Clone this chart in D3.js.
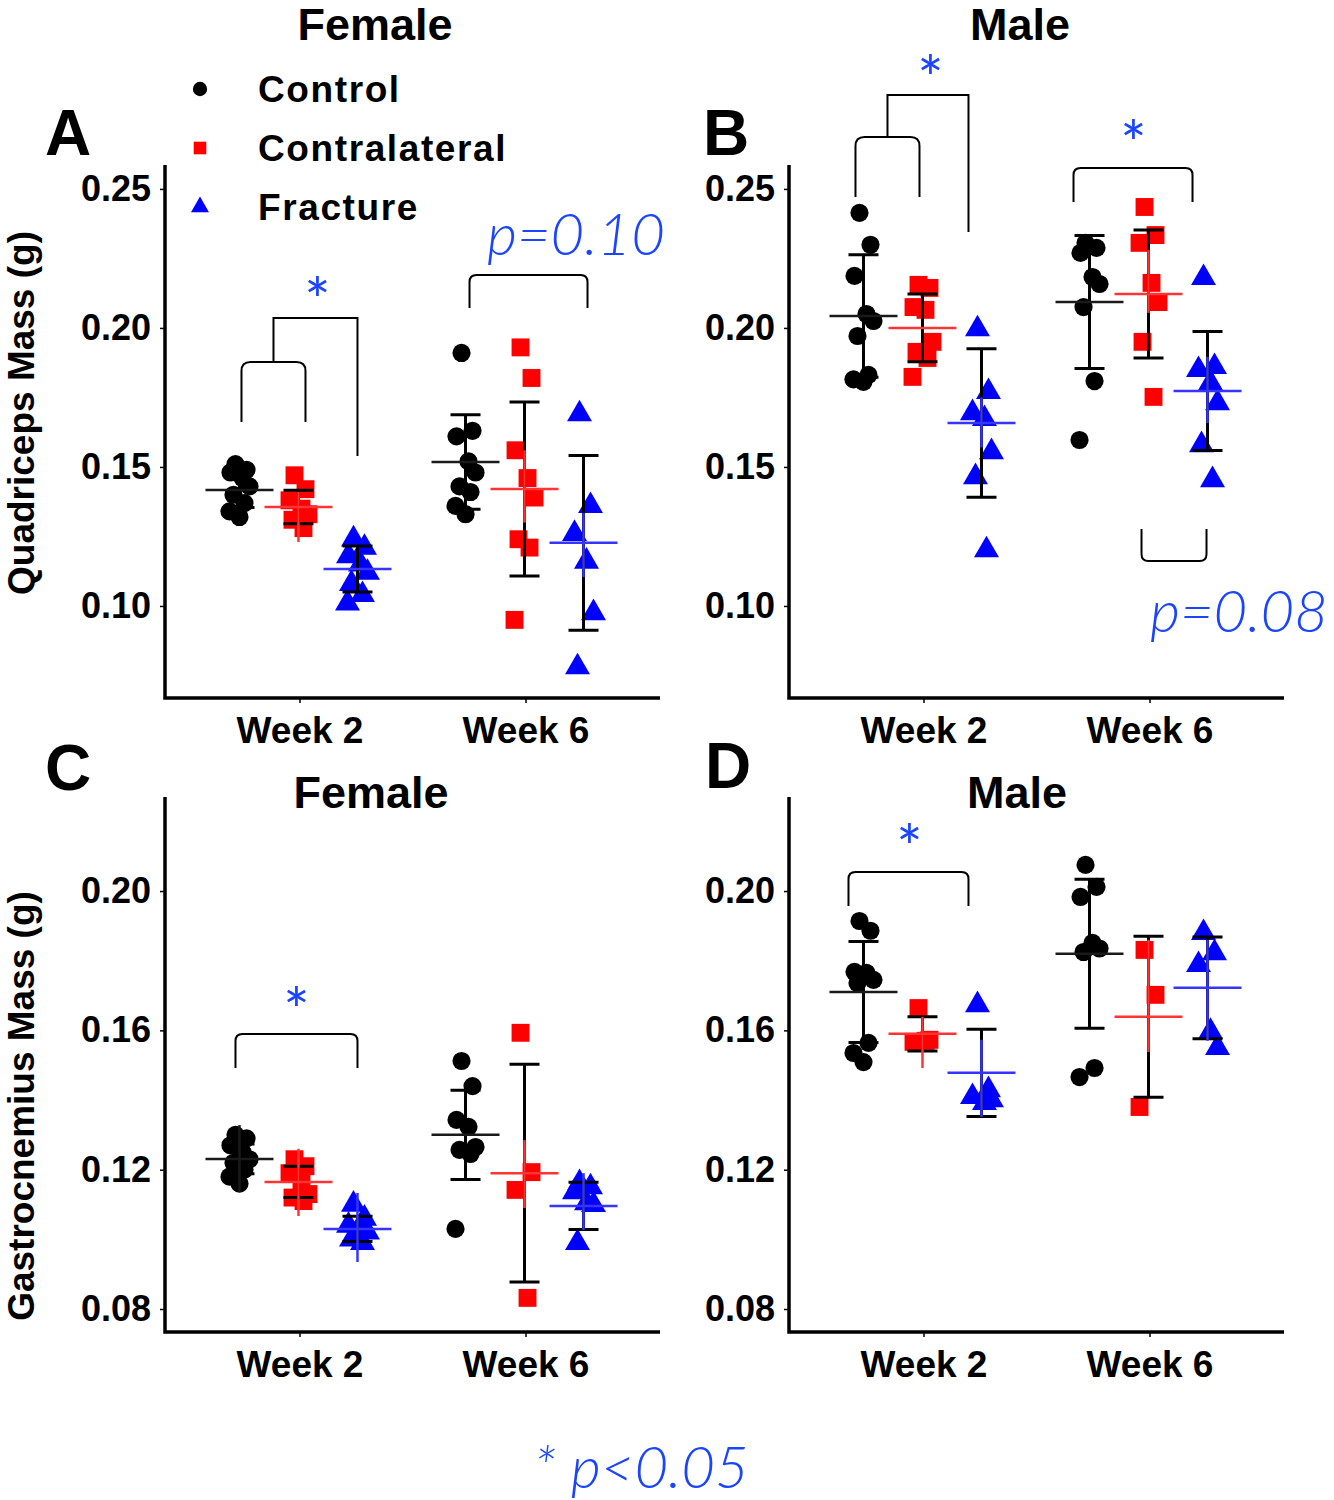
<!DOCTYPE html>
<html><head><meta charset="utf-8">
<script src="https://cdn.jsdelivr.net/npm/d3@7"></script>
<style>body{margin:0;background:#fff}svg{display:block}</style>
</head><body>
<svg id="c" width="1334" height="1500"></svg>
<script>
// ---------------- DATA ----------------
const weeks = ["Week 2", "Week 6"];
const groups = ["Control", "Contralateral", "Fracture"];
const quadTicks = [0.10, 0.15, 0.20, 0.25];
const gastTicks = [0.08, 0.12, 0.16, 0.20];
// order of each list: W2 Control, W2 Contralateral, W2 Fracture, W6 Control, W6 Contralateral, W6 Fracture

const quadFemalePts = [
  [0.151, 0.149, 0.148, 0.146, 0.143, 0.140, 0.137, 0.134, 0.132],
  [0.147, 0.142, 0.138, 0.135, 0.133, 0.131, 0.128],
  [0.124, 0.121, 0.118, 0.115, 0.112, 0.108, 0.104, 0.101],
  [0.191, 0.163, 0.161, 0.152, 0.148, 0.143, 0.141, 0.136, 0.133],
  [0.193, 0.182, 0.156, 0.146, 0.139, 0.124, 0.121, 0.095],
  [0.169, 0.136, 0.126, 0.116, 0.0975, 0.078]
];
const quadFemaleMean = [0.1417, 0.1356, 0.1133, 0.1518, 0.1421, 0.1227];
const quadFemaleSD = [0.0063, 0.0060, 0.00825, 0.0170, 0.0313, 0.03145];
const quadFemaleCI = [null, [0.123, 0.141], null, null, [0.130, 0.156], [0.1104, 0.1335]];

const quadMalePts = [
  [0.2414, 0.2299, 0.2187, 0.2050, 0.2025, 0.1971, 0.1831, 0.1815, 0.1806],
  [0.2155, 0.2144, 0.2075, 0.2065, 0.1950, 0.1914, 0.1892, 0.1824],
  [0.1996, 0.1770, 0.1694, 0.1673, 0.1554, 0.1464, 0.1201],
  [0.2306, 0.2288, 0.2270, 0.2183, 0.2158, 0.2075, 0.1809, 0.1597],
  [0.2435, 0.2334, 0.2306, 0.2162, 0.2093, 0.1950, 0.1752],
  [0.2180, 0.1860, 0.1849, 0.1802, 0.1730, 0.1579, 0.1453]
];
const quadMaleMean = [0.2043, 0.2000, 0.1658, 0.2093, 0.2122, 0.1773];
const quadMaleSD = [0.0220, 0.0122, 0.0267, 0.0239, 0.0230, 0.0214];
const quadMaleCI = [null, null, [0.157, 0.175], null, [0.2054, 0.228], [0.1658, 0.1896]];

const gastFemalePts = [
  [0.130, 0.129, 0.127, 0.125, 0.123, 0.122, 0.120, 0.118, 0.116],
  [0.123, 0.121, 0.119, 0.116, 0.113, 0.112, 0.111],
  [0.110, 0.106, 0.104, 0.103, 0.102, 0.100, 0.099],
  [0.1512, 0.1440, 0.1343, 0.1323, 0.1265, 0.1257, 0.1245, 0.1030],
  [0.1593, 0.1193, 0.1142, 0.0832],
  [0.1162, 0.1150, 0.1136, 0.1104, 0.1099, 0.0990]
];
const gastFemaleMean = [0.1231, 0.1165, 0.1030, 0.1300, 0.1190, 0.1096];
const gastFemaleSD = [0.0043, 0.0045, 0.0036, 0.0128, 0.03125, 0.0068];
const gastFemaleCI = [[0.1136, 0.1328], [0.1067, 0.126], [0.0935, 0.1133], null, [0.109, 0.1285], [0.1027, 0.119]];

const gastMalePts = [
  [0.1914, 0.1886, 0.1768, 0.1765, 0.1745, 0.1736, 0.1564, 0.1535, 0.1509],
  [0.1664, 0.1573, 0.1567, 0.1570],
  [0.1673, 0.1429, 0.1409, 0.1392, 0.1400],
  [0.2075, 0.2012, 0.1983, 0.1851, 0.1835, 0.1825, 0.1492, 0.1466],
  [0.1831, 0.1702, 0.1380],
  [0.1880, 0.1822, 0.1788, 0.1596, 0.1550]
];
const gastMaleMean = [0.1710, 0.1590, 0.1478, 0.1820, 0.1639, 0.1722];
const gastMaleSD = [0.0145, 0.0049, 0.0125, 0.0214, 0.0231, 0.0146];
const gastMaleCI = [null, [0.1492, 0.1639], [0.1352, 0.1573], null, [0.1538, 0.186], [0.157, 0.186]];

// ---------------- DRAWING ----------------
const svg = d3.select("#c");
const BLUE_TXT = "#1a44ff";
const colors = {Control: "#000000", Contralateral: "#ff0000", Fracture: "#0000ff"};
const meanColors = {Control: "#1a1a1a", Contralateral: "#ff3535", Fracture: "#3535ff"};
const symTypes = {Control: d3.symbolCircle, Contralateral: d3.symbolSquare, Fracture: d3.symbolTriangle};
const symSize = {Control: 260, Contralateral: 320, Fracture: 270};
const jitter = [-4, 7, -9, 3, 10, -6, 5, -10, 0];
const boldFont = "'Liberation Sans', Arial, sans-serif";
const thinFont = "Lato, 'Open Sans', 'DejaVu Sans', sans-serif";

const panels = [
  {letter: "A", lx: 45, ly: 155, x0: 165, x1: 660, yTop: 165, yBot: 698, domain: [0.0669, 0.2586], ticks: quadTicks,
   pts: quadFemalePts, mean: quadFemaleMean, sd: quadFemaleSD, ci: quadFemaleCI},
  {letter: "B", lx: 703, ly: 155, x0: 789, x1: 1284, yTop: 165, yBot: 698, domain: [0.0669, 0.2586], ticks: quadTicks,
   pts: quadMalePts, mean: quadMaleMean, sd: quadMaleSD, ci: quadMaleCI},
  {letter: "C", lx: 45, ly: 790, x0: 165, x1: 660, yTop: 797, yBot: 1332, domain: [0.0734, 0.227], ticks: gastTicks,
   pts: gastFemalePts, mean: gastFemaleMean, sd: gastFemaleSD, ci: gastFemaleCI},
  {letter: "D", lx: 705, ly: 788, x0: 789, x1: 1284, yTop: 797, yBot: 1332, domain: [0.0734, 0.227], ticks: gastTicks,
   pts: gastMalePts, mean: gastMaleMean, sd: gastMaleSD, ci: gastMaleCI}
];

panels.forEach(p => {
  const x = d3.scalePoint().domain(weeks).range([p.x0, p.x1]).padding(0.595);
  const gx = d3.scalePoint().domain(groups).range([-60, 58]);
  const y = d3.scaleLinear().domain(p.domain).range([p.yBot, p.yTop]);
  p.x = x; p.gx = gx; p.y = y;
  const g = svg.append("g");

  // axes
  const ya = g.append("g").attr("transform", `translate(${p.x0},0)`)
    .call(d3.axisLeft(y).tickValues(p.ticks).tickFormat(d3.format(".2f")).tickSize(5).tickPadding(9));
  ya.select(".domain").remove();
  ya.selectAll(".tick line").attr("stroke", "#000").attr("stroke-width", 1.5);
  ya.selectAll(".tick text").attr("font-family", boldFont).attr("font-weight", "bold")
    .attr("font-size", 36).attr("fill", "#000");
  const xa = g.append("g").attr("transform", `translate(0,${p.yBot})`)
    .call(d3.axisBottom(x).tickSize(5).tickPadding(6));
  xa.select(".domain").remove();
  xa.selectAll(".tick line").attr("stroke", "#000").attr("stroke-width", 1.5);
  xa.selectAll(".tick text").attr("font-family", boldFont).attr("font-weight", "bold")
    .attr("font-size", 37).attr("fill", "#000").attr("dy", "0.93em");
  g.append("path").attr("d", `M${p.x0},${p.yTop}V${p.yBot}H${p.x1}`)
    .attr("fill", "none").attr("stroke", "#000").attr("stroke-width", 3.5);

  const cells = [];
  weeks.forEach((w, wi) => groups.forEach((gr, gi) => {
    const i = wi * 3 + gi;
    cells.push({w, gr, cx: x(w) + gx(gr), pts: p.pts[i], mean: p.mean[i], sd: p.sd[i], ci: p.ci[i]});
  }));

  // points
  cells.forEach(c => {
    g.selectAll(null).data(c.pts).enter().append("path")
      .attr("d", d3.symbol().type(symTypes[c.gr]).size(symSize[c.gr]))
      .attr("transform", (v, k) => `translate(${c.cx + jitter[k % jitter.length]},${y(v)})`)
      .attr("fill", colors[c.gr]);
  });
  // black SD bars
  cells.forEach(c => {
    const lo = y(c.mean - c.sd), hi = y(c.mean + c.sd);
    g.append("path").attr("d", `M${c.cx},${hi}V${lo}M${c.cx - 15},${hi}H${c.cx + 15}M${c.cx - 15},${lo}H${c.cx + 15}`)
      .attr("stroke", "#000").attr("stroke-width", 3).attr("fill", "none");
  });
  // colored interval bars
  cells.forEach(c => {
    if (!c.ci) return;
    g.append("line").attr("x1", c.cx).attr("x2", c.cx).attr("y1", y(c.ci[0])).attr("y2", y(c.ci[1]))
      .attr("stroke", meanColors[c.gr]).attr("stroke-width", 2.5);
  });
  // mean lines
  cells.forEach(c => {
    g.append("line").attr("x1", c.cx - 34).attr("x2", c.cx + 34).attr("y1", y(c.mean)).attr("y2", y(c.mean))
      .attr("stroke", meanColors[c.gr]).attr("stroke-width", 2.5);
  });

  // panel letter
  g.append("text").attr("x", p.lx).attr("y", p.ly)
    .text(p.letter).attr("font-family", boldFont).attr("font-weight", "bold").attr("font-size", 64);
});

// titles
[["Female", 375, 40], ["Male", 1020, 40], ["Female", 371, 808], ["Male", 1017, 808]].forEach(t => {
  svg.append("text").attr("x", t[1]).attr("y", t[2]).attr("text-anchor", "middle").text(t[0])
    .attr("font-family", boldFont).attr("font-weight", "bold").attr("font-size", 45);
});

// y-axis titles
[["Quadriceps Mass (g)", 413], ["Gastrocnemius Mass (g)", 1106]].forEach(t => {
  svg.append("text").attr("transform", `translate(34,${t[1]}) rotate(-90)`).attr("text-anchor", "middle")
    .text(t[0]).attr("font-family", boldFont).attr("font-weight", "bold").attr("font-size", 37);
});

// legend
const leg = svg.append("g");
groups.forEach((gr, i) => {
  const ly = 89 + i * 59;
  leg.append("path").attr("d", d3.symbol().type(symTypes[gr]).size(gr === "Fracture" ? 140 : 160)())
    .attr("transform", `translate(200,${ly})`).attr("fill", colors[gr]);
  leg.append("text").attr("x", 258).attr("y", ly + 13).text(gr)
    .attr("font-family", boldFont).attr("font-weight", "bold").attr("font-size", 37)
    .attr("letter-spacing", 1.6);
});

// significance brackets (pixel offsets relative to week centre)
function bracket(xl, xr, yTop, yl, yr, r) {
  const s = yr > yTop ? 1 : -1;
  return `M${xl},${yl}V${yTop + s * r}Q${xl},${yTop} ${xl + r},${yTop}H${xr - r}Q${xr},${yTop} ${xr},${yTop + s * r}V${yr}`;
}
function star(px, py) {
  svg.append("text").attr("x", px).attr("y", py + 33).attr("text-anchor", "middle").text("*")
    .attr("font-family", thinFont).attr("font-size", 62).attr("fill", BLUE_TXT);
}
const pA = panels[0], pB = panels[1], pC = panels[2], pD = panels[3];
const bl = [];
// A week 2
let c2 = pA.x(weeks[0]);
bl.push(bracket(c2 - 58, c2 + 6, 362, 422, 422, 9));
bl.push(bracket(c2 - 26, c2 + 58, 318, 362, 456, 0));
star(c2 + 18, 290);
// A week 6
let c6 = pA.x(weeks[1]);
bl.push(bracket(c6 - 56, c6 + 62, 275, 308, 308, 7));
// B week 2
c2 = pB.x(weeks[0]);
bl.push(bracket(c2 - 68, c2 - 4, 137, 197, 197, 9));
bl.push(bracket(c2 - 36, c2 + 45, 95, 137, 232, 0));
star(c2 + 7, 68);
// B week 6
c6 = pB.x(weeks[1]);
bl.push(bracket(c6 - 76, c6 + 43, 168, 202, 202, 7));
star(c6 - 16, 133);
bl.push(bracket(c6 - 8, c6 + 57, 561, 529, 529, 7));
// C week 2
c2 = pC.x(weeks[0]);
bl.push(bracket(c2 - 64, c2 + 58, 1034, 1068, 1068, 7));
star(c2 - 3, 1000);
// D week 2
c2 = pD.x(weeks[0]);
bl.push(bracket(c2 - 75, c2 + 45, 872, 906, 906, 7));
star(c2 - 14, 837);
svg.selectAll(null).data(bl).enter().append("path").attr("d", d => d)
  .attr("fill", "none").attr("stroke", "#000").attr("stroke-width", 2);

// p-value labels
[["p=0.10", 487, 255, "start"], ["p=0.08", 1150, 632, "start"], ["* p<0.05", 641, 1488, "middle"]].forEach(t => {
  svg.append("text").attr("x", t[1]).attr("y", t[2]).attr("text-anchor", t[3]).text(t[0])
    .attr("font-family", thinFont).attr("font-weight", 300).attr("font-style", "italic")
    .attr("font-size", 58).attr("fill", BLUE_TXT);
});
</script>
</body></html>
